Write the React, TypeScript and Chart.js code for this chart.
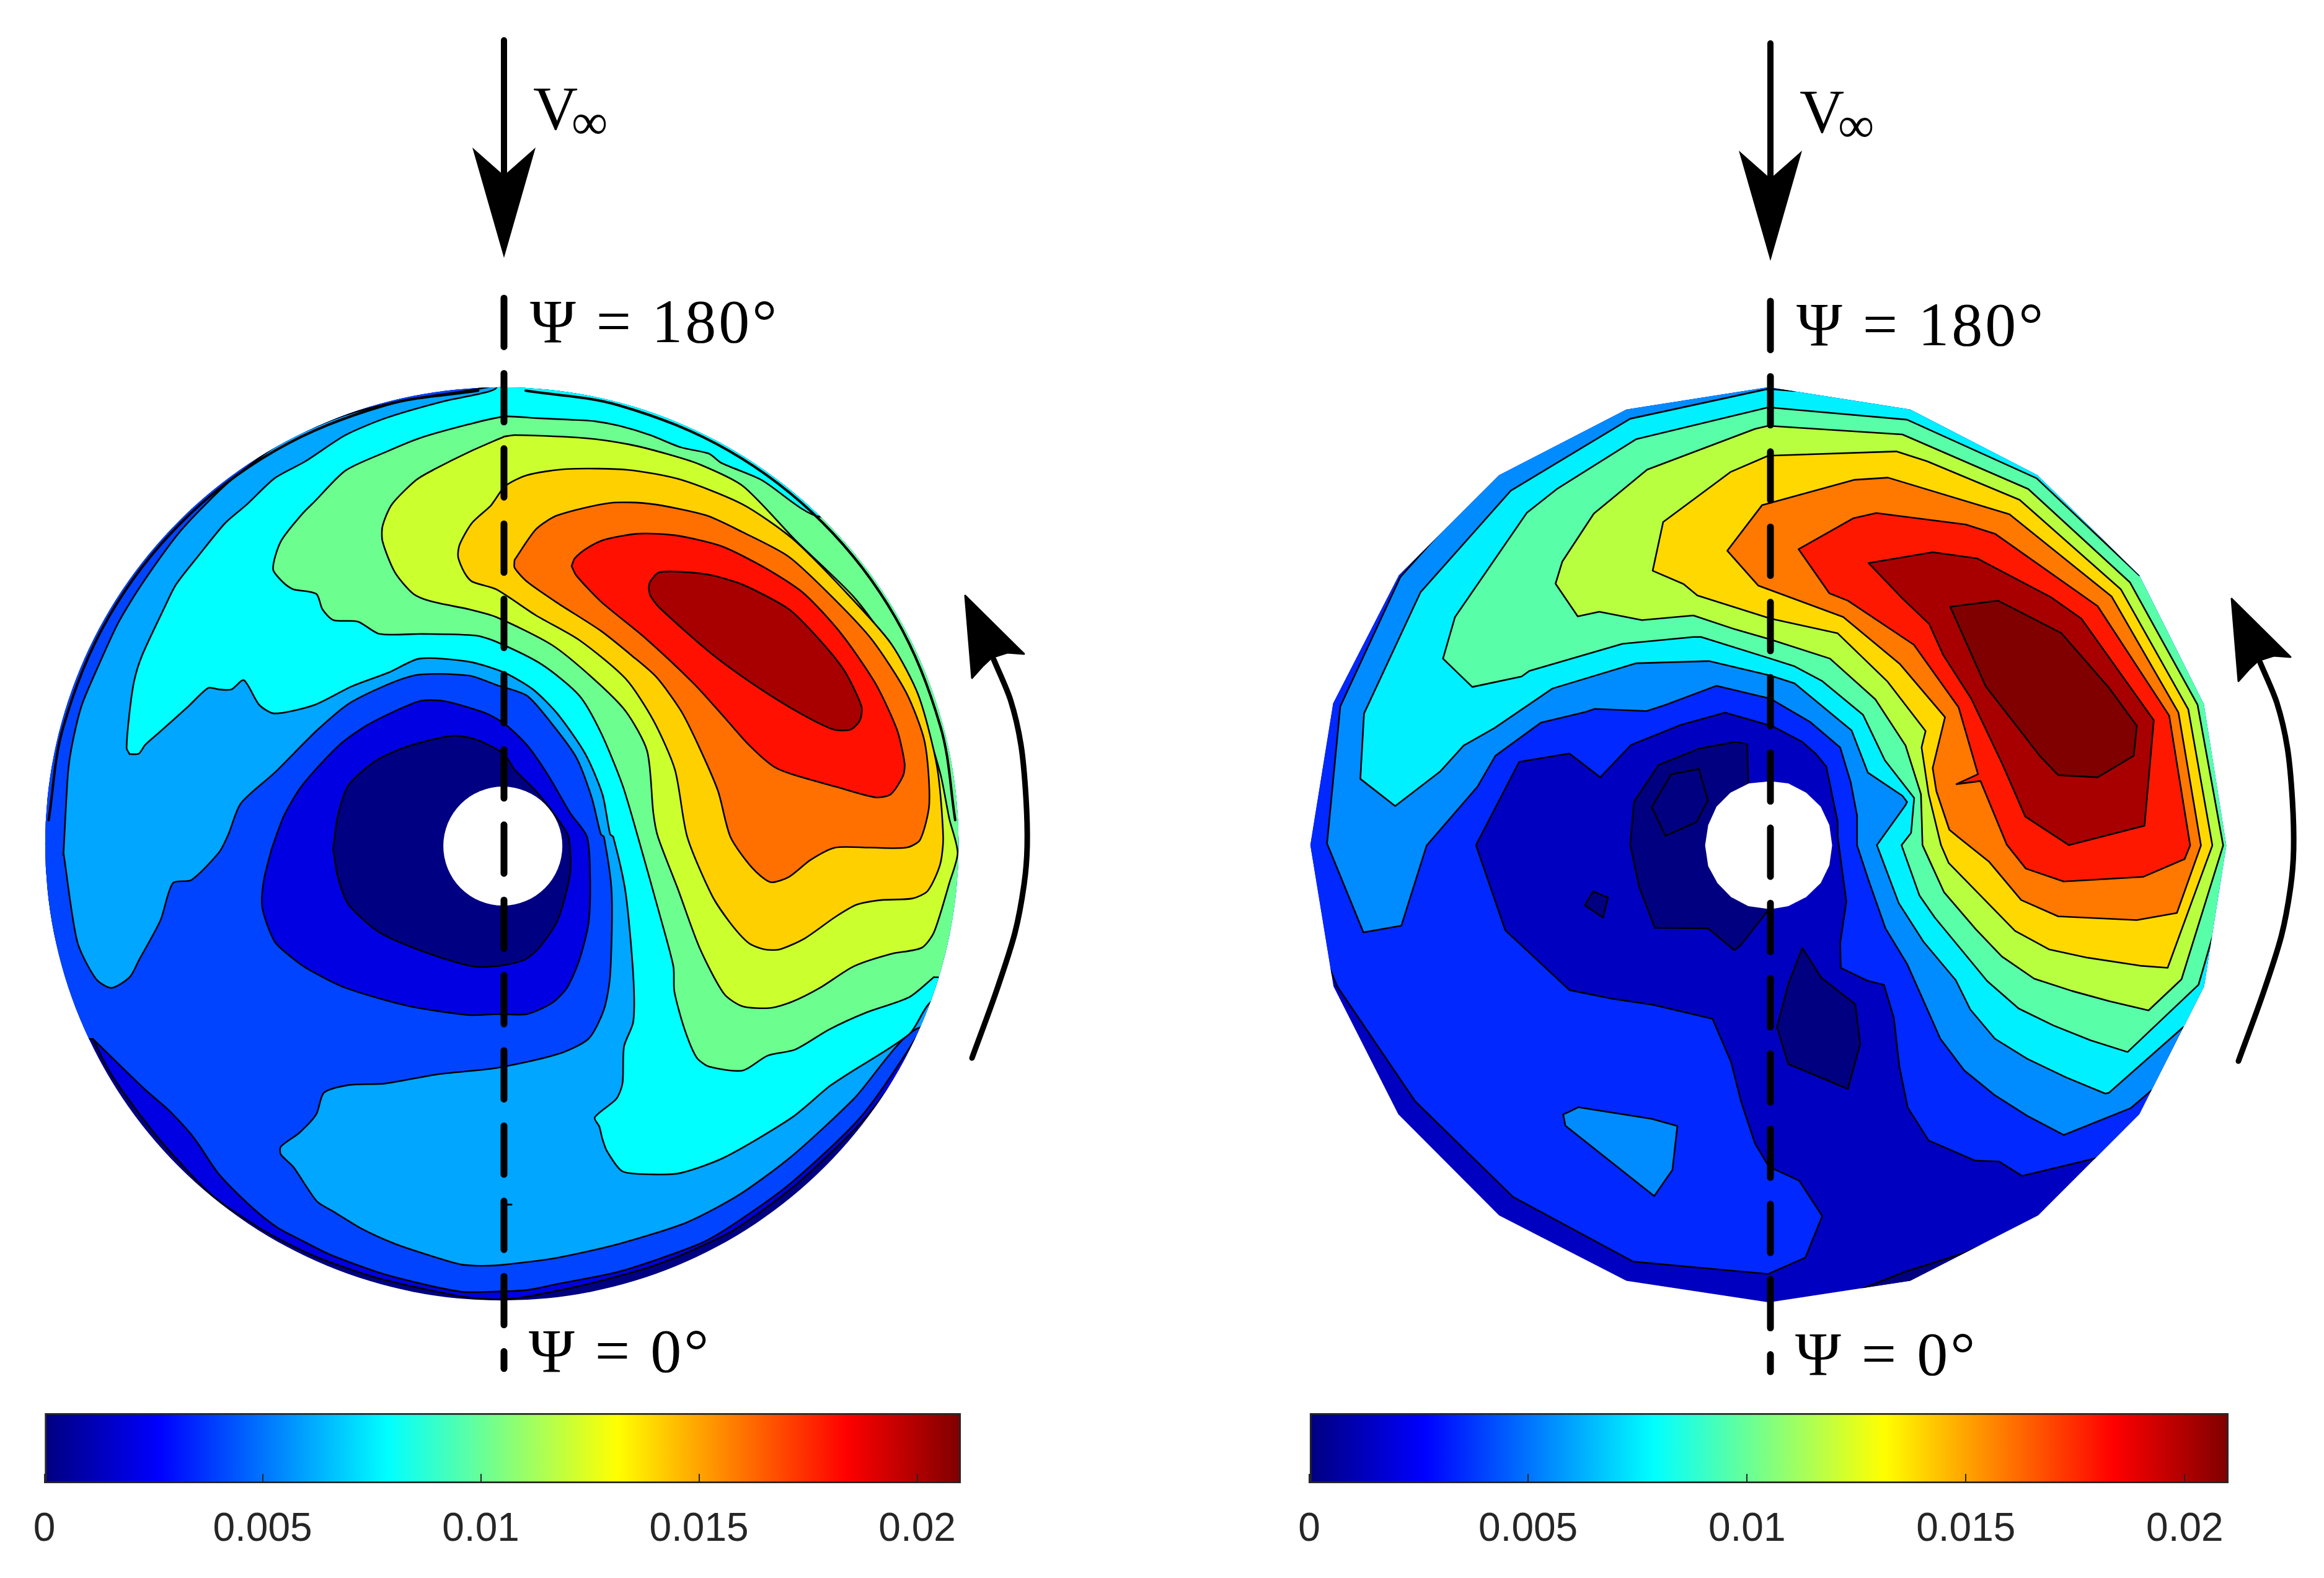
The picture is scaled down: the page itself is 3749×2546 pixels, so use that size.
import React, { useEffect, useRef } from "react";
import { Chart, registerables } from "chart.js";

// ---------- clip plugin: must be registered before the Filler so it wraps the fill ----------
const rotorClip = {
  id: "rotorClip",
  beforeDatasetDraw(chart: any, args: any) {
    const shape = chart.data.datasets[args.index].clipShape;
    if (!shape) return;
    const { x, y } = chart.scales;
    const ctx = chart.ctx;
    ctx.save();
    ctx.beginPath();
    if (shape.r) {
      ctx.arc(x.getPixelForValue(shape.x), y.getPixelForValue(shape.y), Math.abs(x.getPixelForValue(shape.x + shape.r) - x.getPixelForValue(shape.x)), 0, Math.PI * 2);
    } else {
      shape.pts.forEach((p: any, i: number) => {
        const px = x.getPixelForValue(p.x), py = y.getPixelForValue(p.y);
        if (i) ctx.lineTo(px, py); else ctx.moveTo(px, py);
      });
      ctx.closePath();
    }
    ctx.clip();
  },
  afterDatasetDraw(chart: any, args: any) {
    if (chart.data.datasets[args.index].clipShape) chart.ctx.restore();
  },
};
Chart.register(rotorClip);
Chart.register(...registerables);

// ---------- colours ----------
const L_COL = { navy: "#000082", blue: "#0000e2", royal: "#0044ff", azure: "#00a6ff", cyan: "#00ffff", green: "#6cff90", lime: "#ccff2e", yellow: "#ffd000", orange: "#ff7000", red: "#ff1000", dark: "#a80000" };
const R_COL = { navy: "#000080", blue: "#0000c0", royal: "#0028ff", azure: "#008cff", cyan: "#00f0ff", green: "#58ffa8", lime: "#b8ff40", yellow: "#ffd800", orange: "#ff7800", red: "#ff1800", dark: "#a80000", darkest: "#800000" };

// ---------- left map contours (x, y pairs, traced units) ----------
const SHEET = [-300, -300, 3400, -300, 3400, 3400, -300, 3400];
const L_BLUE = [30,1623, 50,1798, 100,1958, 180,2158, 240,2278, 340,2418, 430,2528, 570,2673, 740,2788, 900,2868, 1100,2938, 1370,2998, 1480,3008, 1568,3003, 1788,2958, 1988,2903, 2138,2843, 2268,2778, 2458,2638, 2678,2428, 2798,2268, 2888,2078, 2913,2008, 2958,1828, 2985,1623, 3200,1623, 3200,-200, -200,-200, -200,1623];
const L_ROYAL = [180,2163, 350,2328, 425,2393, 495,2468, 525,2508, 590,2603, 700,2713, 780,2776, 850,2813, 950,2863, 1130,2928, 1370,2983, 1488,2983, 1588,2978, 1688,2958, 1888,2918, 2148,2828, 2268,2758, 2448,2628, 2678,2408, 2888,2098, 2908,2028, 3200,2028, 3200,-200, -200,-200, -200,2163];
const L_AZURE = [85,1568, 100,1300, 115,1200, 145,1080, 200,950, 265,810, 345,680, 470,510, 630,350, 800,225, 1000,140, 1200,90, 1460,50, 1500,30, 1600,-100, 3200,-100, 3200,2128, 2858,2128, 2648,2358, 2448,2543, 2278,2668, 2108,2758, 1888,2828, 1688,2873, 1488,2898, 1380,2896, 1280,2868, 1160,2828, 1050,2778, 960,2723, 910,2693, 880,2653, 830,2578, 790,2538, 790,2513, 850,2468, 905,2408, 930,2338, 1010,2313, 1130,2308, 1300,2278, 1488,2258, 1688,2213, 1788,2163, 1838,2068, 1858,1958, 1863,1688, 1838,1508, 1828,1500, 1798,1380, 1748,1250, 1668,1140, 1588,1050, 1488,1015, 1400,985, 1220,985, 1020,1070, 910,1160, 770,1300, 660,1400, 620,1500, 590,1558, 500,1648, 440,1658, 400,1778, 330,1908, 300,1963, 240,1998, 190,1968, 130,1848, 85,1558];
const L_CYAN = [300,1240, 330,1238, 350,1210, 395,1170, 490,1085, 555,1025, 590,1030, 630,1030, 670,1000, 720,1080, 770,1108, 900,1080, 1020,1020, 1140,975, 1240,930, 1400,940, 1514,975, 1608,1030, 1688,1110, 1778,1240, 1833,1370, 1858,1500, 1868,1508, 1908,1688, 1933,1958, 1933,2108, 1903,2188, 1898,2308, 1878,2358, 1808,2418, 1823,2448, 1833,2488, 1848,2528, 1898,2593, 1998,2603, 2088,2598, 2228,2548, 2448,2418, 2568,2318, 2628,2278, 2828,2148, 2908,2038, 3200,2038, 3200,-100, 1500,-100, 1490,50, 1440,70, 1320,95, 1130,150, 1000,205, 870,290, 770,345, 680,430, 610,490, 520,600, 450,690, 410,770, 340,920, 315,1000, 300,1100, 290,1220];
const L_GREEN = [2908,1963, 3200,1963, 3200,470, 2538,470, 2348,350, 2218,295, 2178,265, 2088,245, 1988,205, 1888,175, 1808,160, 1728,155, 1618,150, 1514,145, 1400,170, 1240,215, 1130,260, 1000,320, 900,420, 860,460, 790,550, 765,640, 800,685, 830,705, 905,720, 925,770, 960,805, 1040,810, 1110,850, 1250,850, 1420,855, 1488,875, 1638,950, 1758,1050, 1828,1170, 1898,1340, 1948,1508, 2018,1758, 2063,1928, 2066,2008, 2098,2128, 2138,2223, 2178,2253, 2288,2266, 2368,2218, 2458,2198, 2568,2133, 2688,2078, 2828,2028];
const L_LIME = [1514,210, 1400,260, 1290,315, 1230,350, 1150,430, 1120,500, 1120,550, 1160,650, 1220,720, 1280,745, 1400,770, 1488,795, 1668,885, 1798,990, 1908,1100, 1978,1230, 1998,1430, 2013,1508, 2078,1678, 2148,1868, 2228,2018, 2288,2058, 2378,2063, 2448,2043, 2538,1998, 2648,1928, 2768,1888, 2868,1868, 2908,1818, 2958,1658, 2985,1560, 2958,1450, 2928,1300, 2858,1080, 2758,880, 2648,730, 2458,545, 2288,370, 2148,300, 2038,265, 1918,235, 1778,215, 1548,205];
const L_YELLOW = [1488,410, 1470,435, 1410,490, 1370,560, 1365,600, 1385,650, 1410,680, 1488,705, 1618,790, 1758,870, 1908,995, 1998,1130, 2068,1290, 2108,1508, 2188,1698, 2248,1788, 2308,1853, 2358,1873, 2408,1873, 2488,1838, 2588,1768, 2658,1728, 2738,1713, 2838,1708, 2888,1683, 2928,1598, 2938,1508, 2918,1280, 2858,1050, 2768,880, 2618,710, 2448,540, 2288,430, 2088,350, 1918,318, 1718,315, 1588,335, 1518,370];
const L_ORANGE = [1548,610, 1548,635, 1588,680, 1688,750, 1828,840, 1928,920, 2008,990, 2088,1100, 2148,1220, 2208,1360, 2248,1508, 2318,1608, 2378,1655, 2438,1638, 2508,1583, 2588,1543, 2698,1543, 2818,1543, 2863,1518, 2893,1400, 2878,1200, 2818,1040, 2708,870, 2588,740, 2438,600, 2288,520, 2168,465, 1988,428, 1858,425, 1688,465, 1618,510];
const L_RED = [1733,630, 1748,660, 1828,745, 1968,860, 2128,1010, 2228,1120, 2308,1210, 2388,1280, 2448,1305, 2588,1345, 2718,1380, 2768,1370, 2808,1310, 2813,1270, 2788,1160, 2718,1010, 2608,850, 2488,720, 2368,640, 2218,565, 2068,530, 1948,525, 1838,545, 1778,575, 1743,605];
const L_DARK = [1983,700, 1988,725, 2018,765, 2188,915, 2348,1030, 2488,1115, 2583,1160, 2638,1160, 2668,1130, 2673,1085, 2618,970, 2538,870, 2438,770, 2288,690, 2188,660, 2108,650, 2018,650, 1988,680];
const L_CORE_BLUE = [760,1548, 800,1440, 860,1340, 980,1210, 1080,1140, 1240,1068, 1320,1068, 1450,1105, 1514,1140, 1588,1210, 1658,1310, 1728,1430, 1783,1508, 1793,1638, 1788,1788, 1758,1908, 1718,1998, 1668,2048, 1588,2083, 1488,2083, 1400,2086, 1200,2056, 1000,1998, 880,1938, 830,1903, 770,1848, 730,1738, 735,1648];
const L_CORE_NAVY = [960,1548, 975,1440, 1010,1340, 1100,1260, 1200,1215, 1350,1180, 1430,1195, 1514,1240, 1548,1290, 1618,1360, 1688,1450, 1723,1508, 1728,1628, 1688,1778, 1628,1868, 1578,1908, 1488,1928, 1410,1928, 1260,1883, 1110,1818, 1010,1728, 975,1638];
const L_RIM_LEFT = [1430,61, 1126,109, 771,256, 466,490, 232,795, 85,1150, 37,1454];
const L_RIM_RIGHT = [1584,61, 1888,109, 2243,256, 2548,490, 2782,795, 2929,1150, 2977,1454];
const L_STUB = [1514, 2701, 1538, 2701];

// ---------- right map contours ----------
const R_OUTLINE = [1533,50, 1073,122, 660,335, 335,660, 122,1075, 48,1535, 123,1993, 333,2408, 660,2736, 1073,2948, 1535,3018, 1993,2948, 2408,2736, 2736,2408, 2946,1993, 3018,1536, 2945,1077, 2736,660, 2406,335, 1993,122];
const R_SLIVER = [1838,2973, 1978,2918, 2168,2858, 2300,2800, 2300,3200, 1838,3200];
const R_ROYAL = [2593,2551, 2356,2608, 2281,2561, 2203,2558, 2053,2493, 1985,2386, 1958,2253, 1940,2095, 1908,1988, 1855,1975, 1768,1933, 1766,1853, 1786,1718, 1758,1508, 1758,1460, 1721,1280, 1688,1240, 1643,1200, 1548,1150, 1393,1105, 1250,1145, 1088,1210, 988,1315, 888,1238, 725,1265, 585,1535, 680,1811, 888,2005, 1025,2033, 1160,2053, 1352,2098, 1412,2238, 1445,2368, 1490,2503, 1535,2578, 1633,2623, 1708,2738, 1653,2873, 1533,2926, 1095,2886, 705,2676, 388,2366, 135,1993, 112,1938, -200,1938, -200,-200, 3300,-200, 3300,2551];
const R_AZURE = [2775,2331, 3300,2331, 3300,-200, 300,-200, 470,520, 340,665, 145,1085, 102,1530, 220,1818, 343,1796, 425,1536, 590,1345, 648,1245, 795,1138, 940,1103, 970,1093, 1138,1100, 1200,1080, 1365,1018, 1540,1060, 1668,1135, 1766,1218, 1800,1330, 1821,1440, 1821,1536, 1858,1648, 1913,1805, 1983,1920, 2091,2163, 2168,2265, 2266,2345, 2373,2413, 2491,2475, 2708,2388];
const R_AZURE_ISLAND = [868,2408, 885,2401, 917,2385, 1155,2423, 1238,2446, 1222,2588, 1163,2673, 875,2445];
const R_CYAN = [1533,55, 1085,152, 698,385, 405,715, 222,1108, 210,1320, 323,1408, 470,1295, 545,1212, 645,1155, 833,1027, 1105,945, 1340,938, 1540,985, 1618,1010, 1688,1068, 1803,1163, 1856,1300, 1968,1375, 1983,1395, 1978,1405, 1885,1535, 1956,1723, 2036,1848, 2141,1973, 2188,2068, 2268,2163, 2373,2228, 2498,2288, 2626,2341, 2638,2338, 2878,2126, 3300,2126, 3300,-200, 1618,-200, 1618,62];
const R_GREEN = [1533,115, 1105,218, 850,378, 750,457, 517,795, 478,930, 573,1022, 733,988, 758,970, 1060,882, 1290,860, 1315,860, 1540,930, 1618,955, 1708,1003, 1840,1112, 1911,1260, 2006,1382, 1996,1495, 1965,1535, 2023,1698, 2073,1770, 2243,1976, 2345,2065, 2458,2120, 2578,2168, 2698,2206, 2928,1988, 2973,1833, 3300,1833, 3300,660, 2736,660, 2403,345, 1983,155];
const R_LIME = [1533,175, 1490,185, 1140,317, 967,460, 865,615, 843,687, 915,793, 985,778, 1123,805, 1290,790, 1425,835, 1540,868, 1733,930, 1880,1062, 1978,1212, 2028,1370, 2033,1535, 2103,1688, 2206,1808, 2290,1896, 2395,1968, 2518,2008, 2638,2041, 2766,2071, 2873,1970, 3008,1536, 2925,1080, 2706,683, 2376,380, 1968,203];
const R_YELLOW = [1533,272, 1410,325, 1192,487, 1158,645, 1258,688, 1303,725, 1540,800, 1758,848, 1920,1005, 2043,1165, 2030,1218, 2053,1370, 2093,1535, 2118,1593, 2333,1813, 2443,1873, 2568,1900, 2738,1926, 2828,1933, 2973,1536, 2895,1095, 2676,705, 2348,415, 2048,290, 1948,258];
const R_ORANGE = [1513,432, 1400,580, 1500,693, 1776,795, 1960,948, 2106,1120, 2066,1285, 2078,1360, 2120,1485, 2148,1508, 2248,1588, 2353,1713, 2473,1766, 2728,1778, 2858,1755, 2936,1536, 2863,1105, 2646,728, 2315,462, 1921,343, 1813,350];
const R_RED = [1631,575, 1731,718, 1791,742, 2005,885, 2150,1088, 2213,1305, 2143,1337, 2221,1327, 2306,1533, 2368,1611, 2491,1653, 2748,1638, 2883,1580, 2901,1536, 2833,1115, 2601,760, 2268,525, 2173,495, 1883,458, 1808,475];
const R_DARK = [1858,620, 2066,585, 2210,605, 2448,730, 2548,800, 2783,1130, 2753,1472, 2508,1535, 2366,1442, 2291,1270, 2191,1060, 2100,918, 2055,818, 1968,735];
const R_DARKEST = [2123,762, 2278,742, 2483,847, 2638,1025, 2728,1148, 2718,1245, 2601,1315, 2473,1308, 2413,1245, 2238,1020];
const R_NAVY_A = [1085,1533, 1098,1393, 1177,1275, 1308,1222, 1425,1200, 1465,1207, 1468,1335, 1560,1400, 1535,1743, 1445,1858, 1423,1876, 1338,1805, 1165,1803, 1115,1673];
const R_NAVY_B = [1218,1305, 1308,1288, 1337,1390, 1300,1460, 1200,1505, 1155,1412];
const R_NAVY_C = [965,1685, 1013,1705, 997,1770, 938,1730];
const R_NAVY_D = [1643,1868, 1705,1965, 1815,2051, 1831,2180, 1791,2326, 1598,2245, 1561,2125, 1598,1986];
const R_HOLE = [1470,1335, 1410,1365, 1365,1410, 1338,1470, 1328,1536, 1338,1603, 1368,1658, 1412,1703, 1468,1733, 1540,1743, 1598,1733, 1656,1703, 1703,1658, 1731,1600, 1740,1536, 1731,1470, 1703,1410, 1656,1365, 1598,1335, 1540,1328];

// ---------- annotations (page units of the left panel) ----------
const FLOW_SHAFT = [813, 65, 813, 290];
const FLOW_HEAD = [762, 238, 813, 283, 864, 238, 813, 416];
const AXIS_LINE = [813, 481, 813, 2208];
const SPIN_SHAFT = [1568, 1707, 1607, 1600, 1637, 1506, 1652, 1427, 1657, 1365, 1655, 1286, 1647, 1202, 1630, 1129, 1603, 1064];
const SPIN_HEAD = [1557, 961, 1652, 1055, 1625, 1053, 1600, 1061, 1585, 1075, 1568, 1094];

// ---------- colour bar ----------
const BAR_MAX = 0.021;
const BAR_STEP = 0.005;
const JET_STOPS: [number, string][] = [[0, "#00007f"], [0.125, "#0000ff"], [0.375, "#00ffff"], [0.625, "#ffff00"], [0.875, "#ff0000"], [1, "#7f0000"]];

const K = 1568 / 780;
const W = 1874, H = 2270;

type Panel = { ox: number; oy: number; cx: number; cy: number; r: number; left: number; dx: number; dy: number };
const LEFT: Panel = { ox: 60, oy: 600, cx: 1507, cy: 1531, r: 1481, left: 0, dx: 0, dy: 0 };
const RIGHT: Panel = { ox: 2090, oy: 600, cx: 1533, cy: 1533, r: 1485, left: 1875, dx: 2043, dy: 5 };

const norm = (p: Panel, gx: number, gy: number) => ({ x: (gx - p.cx) / p.r, y: (p.cy - gy) / p.r });
const page = (p: Panel, fx: number, fy: number) => norm(p, (fx - p.ox) * K, (fy - p.oy) * K);
const pts = (p: Panel, flat: number[], closed = true) => {
  const out = [];
  for (let i = 0; i < flat.length; i += 2) out.push(norm(p, flat[i], flat[i + 1]));
  if (closed) out.push(out[0]);
  return out;
};
const annot = (p: Panel, flat: number[]) => {
  const out = [];
  for (let i = 0; i < flat.length; i += 2) out.push(page(p, flat[i] + p.dx, flat[i + 1] + p.dy));
  return out;
};

function layer(data: any[], color: string | null, lineColor: string | null, width: number, tension: number, clipShape: any) {
  return {
    data, showLine: true, pointRadius: 0, tension, clipShape,
    fill: color ? "shape" : false,
    backgroundColor: color || "transparent",
    borderColor: lineColor || "transparent",
    borderWidth: lineColor ? width : 0,
    borderJoinStyle: "round", borderCapStyle: "round",
  };
}

function buildLeft() {
  const p = LEFT, c = L_COL, clip = { x: 0, y: 0, r: 1 };
  const fillOf = (flat: number[], col: string) => layer(pts(p, flat), col, "#000", 2.6, 0.25, clip);
  return [
    layer(pts(p, SHEET), c.navy, null, 0, 0, clip),
    fillOf(L_BLUE, c.blue), fillOf(L_ROYAL, c.royal), fillOf(L_AZURE, c.azure), fillOf(L_CYAN, c.cyan),
    fillOf(L_GREEN, c.green), fillOf(L_LIME, c.lime), fillOf(L_YELLOW, c.yellow), fillOf(L_ORANGE, c.orange),
    fillOf(L_RED, c.red), fillOf(L_DARK, c.dark), fillOf(L_CORE_BLUE, c.blue), fillOf(L_CORE_NAVY, c.navy),
    layer(pts(p, L_RIM_LEFT, false), null, "#000", 4, 0.35, clip),
    layer(pts(p, L_RIM_RIGHT, false), null, "#000", 4, 0.35, clip),
    layer(pts(p, L_STUB, false), null, "#000", 3, 0, clip),
    { data: [norm(p, 1510, 1538)], showLine: false, pointRadius: 96, pointBackgroundColor: "#fff", pointBorderWidth: 0, pointBorderColor: "#fff" },
  ];
}

function buildRight() {
  const p = RIGHT, c = R_COL, clip = { pts: pts(p, R_OUTLINE, false) };
  const fillOf = (flat: number[], col: string, w = 2.6) => layer(pts(p, flat), col, "#000", w, 0, clip);
  return [
    layer(pts(p, SHEET), c.blue, null, 0, 0, clip),
    fillOf(R_SLIVER, c.navy), fillOf(R_ROYAL, c.royal), fillOf(R_AZURE, c.azure), fillOf(R_AZURE_ISLAND, c.azure),
    fillOf(R_CYAN, c.cyan), fillOf(R_GREEN, c.green), fillOf(R_LIME, c.lime), fillOf(R_YELLOW, c.yellow),
    fillOf(R_ORANGE, c.orange), fillOf(R_RED, c.red), fillOf(R_DARK, c.dark), fillOf(R_DARKEST, c.darkest),
    fillOf(R_NAVY_A, c.navy), fillOf(R_NAVY_B, c.navy), fillOf(R_NAVY_C, c.navy), fillOf(R_NAVY_D, c.navy),
    layer(pts(p, R_HOLE), "#fff", null, 0, 0, undefined),
  ];
}

function annotations(p: Panel) {
  return [
    { ...layer(annot(p, AXIS_LINE), null, "#000", 11, 0, undefined), borderDash: [78.4, 43] },
    layer(annot(p, FLOW_SHAFT), null, "#000", 10, 0, undefined),
    layer(annot(p, FLOW_HEAD).concat(annot(p, FLOW_HEAD.slice(0, 2))), "#000", null, 0, 0, undefined),
    layer(annot(p, SPIN_SHAFT), null, "#000", 9, 0.3, undefined),
    layer(annot(p, SPIN_HEAD).concat(annot(p, SPIN_HEAD.slice(0, 2))), "#000", "#000", 3, 0, undefined),
  ];
}

const labelsPlugin = (p: Panel) => ({
  id: "rotorLabels",
  afterDatasetsDraw(chart: any) {
    const ctx = chart.ctx, { x, y } = chart.scales;
    const put = (text: string, fx: number, fy: number, size: number, spacing: number) => {
      const q = page(p, fx + p.dx, fy + p.dy);
      ctx.save();
      ctx.font = `${size}px "Liberation Serif"`;
      (ctx as any).letterSpacing = `${spacing}px`;
      ctx.fillStyle = "#000";
      ctx.textBaseline = "alphabetic";
      ctx.fillText(text, x.getPixelForValue(q.x), y.getPixelForValue(q.y));
      ctx.restore();
    };
    put("V", 860, 208, 100, 0);
    put("∞", 922, 224, 82, 0);
    put("Ψ = 180°", 855, 552, 100, 4);
    put("Ψ = 0°", 853, 2213, 100, 4);
  },
});

function diskChart(canvas: HTMLCanvasElement, p: Panel, disk: any[]) {
  const a = page(p, p.left, 0), b = page(p, p.left + W, H);
  const painted = disk.concat(annotations(p)).reverse();
  return new Chart(canvas, {
    type: "line",
    data: { datasets: painted as any },
    plugins: [labelsPlugin(p)],
    options: {
      responsive: false, animation: false, devicePixelRatio: 1, events: [],
      layout: { padding: 0, autoPadding: false },
      plugins: { legend: { display: false }, tooltip: { enabled: false }, title: { display: false } },
      scales: {
        x: { type: "linear", display: false, min: a.x, max: b.x },
        y: { type: "linear", display: false, min: b.y, max: a.y },
      },
    } as any,
  });
}

function barChart(canvas: HTMLCanvasElement, padLeft: number, padRight: number) {
  return new Chart(canvas, {
    type: "bar",
    data: {
      labels: [""],
      datasets: [{
        data: [BAR_MAX],
        barPercentage: 1, categoryPercentage: 1,
        borderColor: "#262626", borderWidth: 3, borderSkipped: false,
        backgroundColor: (c: any) => {
          const g = c.chart.ctx.createLinearGradient(padLeft, 0, W - padRight, 0);
          JET_STOPS.forEach(([o, col]) => g.addColorStop(o, col));
          return g;
        },
      }],
    },
    options: {
      indexAxis: "y", responsive: false, animation: false, devicePixelRatio: 1, events: [],
      layout: { padding: { left: padLeft, right: padRight, top: 10, bottom: 0 } },
      plugins: { legend: { display: false }, tooltip: { enabled: false }, title: { display: false } },
      scales: {
        y: { type: "category", display: false },
        x: {
          type: "linear", min: 0, max: BAR_MAX,
          afterFit: (s: any) => { s.height = 153; },
          border: { display: false },
          grid: { drawOnChartArea: false, drawTicks: true, tickLength: -15, color: "#262626", lineWidth: 2, z: 1 },
          ticks: {
            stepSize: BAR_STEP, includeBounds: false, autoSkip: false, maxRotation: 0, padding: 52,
            color: "#262626", font: { family: '"Liberation Sans"', size: 64 },
            callback: (v: any) => String(+Number(v).toFixed(3)),
          },
        },
      },
    } as any,
  });
}

export default function App() {
  const a = useRef<HTMLCanvasElement>(null);
  const b = useRef<HTMLCanvasElement>(null);
  const c = useRef<HTMLCanvasElement>(null);
  const d = useRef<HTMLCanvasElement>(null);
  useEffect(() => {
    const charts = [
      diskChart(a.current!, LEFT, buildLeft()),
      diskChart(b.current!, RIGHT, buildRight()),
      barChart(c.current!, 71.5, 1874 - 1550),
      barChart(d.current!, 2112 - 1875, 1874 - (3595 - 1875)),
    ];
    return () => charts.forEach((ch) => ch.destroy());
  }, []);
  const pos = (left: number, top: number): React.CSSProperties => ({ position: "absolute", left, top, display: "block" });
  return (
    <div style={{ position: "absolute", left: 0, top: 0, width: 3749, height: 2546, background: "#fff", overflow: "hidden" }}>
      <canvas ref={a} width={W} height={H} style={pos(0, 0)} />
      <canvas ref={b} width={W} height={H} style={pos(1875, 0)} />
      <canvas ref={c} width={W} height={276} style={pos(0, 2270)} />
      <canvas ref={d} width={W} height={276} style={pos(1875, 2270)} />
    </div>
  );
}
